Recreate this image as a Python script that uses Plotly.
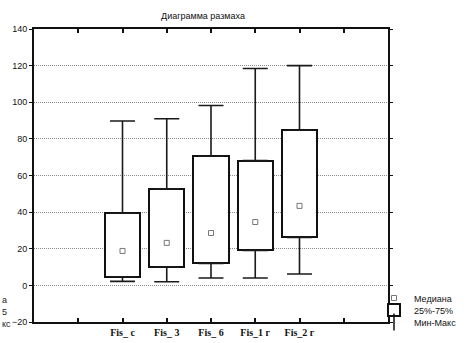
import numpy as np
import plotly.graph_objects as go

# ---- data ----
categories = ["Fis_ c", "Fis_ 3", "Fis_ 6", "Fis_1 г", "Fis_2 г"]
mins = [2.2, 2.0, 4.0, 4.0, 6.2]
q1 = [4.7, 10.0, 12.0, 19.1, 26.2]
medians = [18.8, 23.2, 28.6, 34.6, 43.4]
q3 = [39.5, 52.7, 70.5, 68.1, 84.7]
maxs = [89.8, 91.0, 98.2, 118.4, 120.0]
y_ticks = [-20, 0, 20, 40, 60, 80, 100, 120, 140]
title_text = "Диаграмма размаха"
legend_names = ["Медиана", "25%-75%", "Мин-Макс"]
cut_texts = ["а", "5", "кс"]

# categories sit on ticks 2..6 of an axis with ticks 1..7 (empty ticks at the ends)
pad = 1
pos = np.arange(len(categories)) + pad + 1
n_ticks = len(categories) + 2 * pad
tick_labels = [""] * pad + ["<b>%s</b>" % c for c in categories] + [""] * pad

q1a, q3a, mina, maxa = map(np.array, (q1, q3, mins, maxs))

W, H = 467, 343
L, R, T, B = 34, 79, 29, 21
PW, PH = W - L - R, H - T - B

def px_to_py(ypix):
    return (H - B - ypix) / PH

def px_to_px(xpix):
    return (xpix - L) / PW

fig = go.Figure()

# boxes 25%-75%
fig.add_trace(go.Bar(
    x=pos, y=q3a - q1a, base=q1a, width=0.8,
    marker=dict(color="white", line=dict(color="#111111", width=2)),
    name=legend_names[1], legend="legend2", hoverinfo="skip",
))

# whiskers (upper and lower)
for anchor, up, down in ((q3a, maxa - q3a, np.zeros(len(pos))),
                         (q1a, np.zeros(len(pos)), q1a - mina)):
    fig.add_trace(go.Scatter(
        x=pos, y=anchor, mode="markers",
        marker=dict(size=1, color="rgba(0,0,0,0)"),
        error_y=dict(type="data", symmetric=False, array=up, arrayminus=down,
                     color="#1a1a1a", thickness=1.6, width=12.5),
        showlegend=False, hoverinfo="skip",
    ))

# medians
fig.add_trace(go.Scatter(
    x=pos, y=medians, mode="markers",
    marker=dict(symbol="square-open", size=5, color="#777777", line=dict(width=1)),
    name=legend_names[0], legend="legend",
))

# legend entry for min-max
fig.add_trace(go.Scatter(
    x=[None], y=[None], mode="markers",
    marker=dict(symbol="line-ns-open", size=12, color="#111111", line=dict(width=1.5)),
    name=legend_names[2], legend="legend3",
))

leg_common = dict(xanchor="left", yanchor="middle", bgcolor="rgba(0,0,0,0)",
                  font=dict(size=9, color="#111111"), itemwidth=30,
                  borderwidth=0)
leg_x = px_to_px(374)

fig.update_layout(
    width=W, height=H,
    margin=dict(l=L, r=R, t=T, b=B, autoexpand=False),
    paper_bgcolor="white", plot_bgcolor="white",
    font=dict(family="Liberation Sans, Arial, sans-serif", size=9, color="#111111"),
    title=dict(text=title_text, x=203 / W, xref="container", xanchor="center",
               y=1 - 16 / H, yref="container", yanchor="middle",
               font=dict(size=9, family="Liberation Sans, Arial, sans-serif")),
    showlegend=True,
    legend=dict(x=leg_x, y=px_to_py(298), **leg_common),
    legend2=dict(x=leg_x, y=px_to_py(310), **leg_common),
    legend3=dict(x=leg_x, y=px_to_py(322), **leg_common),
    bargap=0,
)

fig.update_xaxes(
    range=[0, n_ticks + 1],
    tickmode="array", tickvals=list(range(1, n_ticks + 1)), ticktext=tick_labels,
    ticks="inside", ticklen=4, tickwidth=1.5, tickcolor="#111111",
    showline=True, linecolor="#111111", linewidth=2, mirror="ticks",
    showgrid=False, zeroline=False, automargin=False,
    tickfont=dict(family="Liberation Serif, Times New Roman, serif", size=10, color="#111111"),
)
fig.update_yaxes(
    range=[y_ticks[0], y_ticks[-1]],
    tickmode="array", tickvals=y_ticks,
    ticks="outside", ticklen=3, tickwidth=1, tickcolor="#111111",
    showline=True, linecolor="#111111", linewidth=2, mirror="ticks",
    showgrid=True, gridcolor="#8c8c8c", griddash="1px,1px", gridwidth=1,
    zeroline=False, automargin=False,
    tickfont=dict(size=9, color="#111111"),
)

# cut-off fragments at the left edge
for i, t in enumerate(cut_texts):
    fig.add_annotation(text=t, xref="paper", yref="paper",
                       x=px_to_px(0), xanchor="left",
                       y=px_to_py(300 + 12 * i), yanchor="middle",
                       showarrow=False, font=dict(size=9, color="#222222"))

fig.write_html("out.html")
